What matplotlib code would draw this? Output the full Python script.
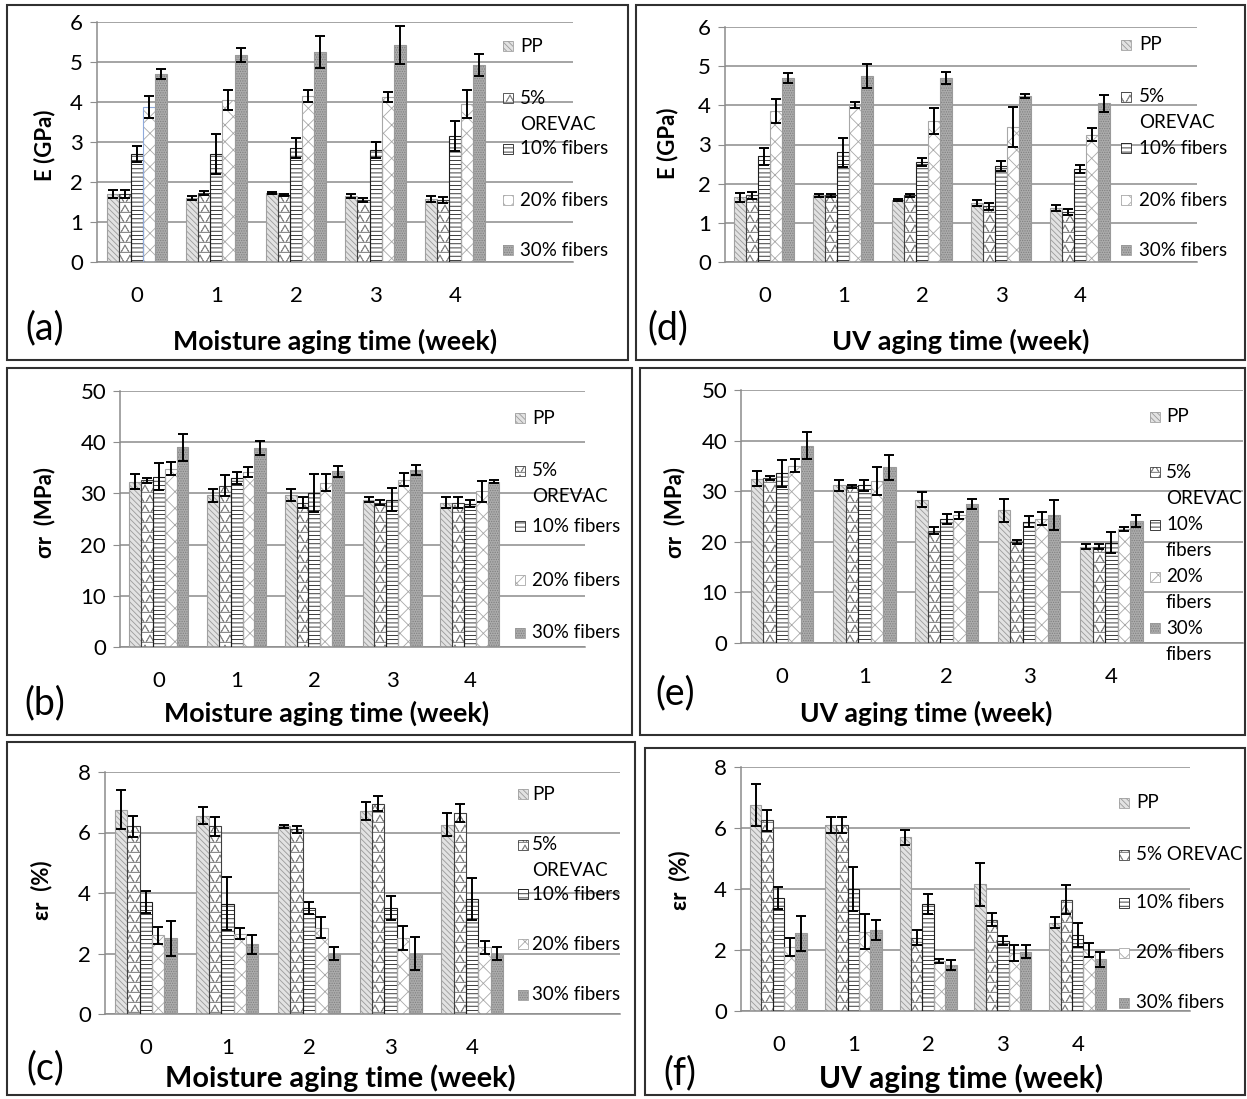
import numpy as np
import matplotlib
matplotlib.use('Agg')
import matplotlib.pyplot as plt
import matplotlib.hatch as mhatch
from matplotlib.path import Path
from matplotlib.patches import Rectangle

plt.rcParams['font.family'] = ['Lato', 'DejaVu Sans']
plt.rcParams['hatch.linewidth'] = 0.6

# data (rows = PP, 5% OREVAC, 10%, 20%, 30% fibers)
weeks = [0, 1, 2, 3, 4]

E_moist = [[1.70, 1.60, 1.72, 1.65, 1.58],
           [1.70, 1.72, 1.67, 1.55, 1.55],
           [2.70, 2.70, 2.85, 2.80, 3.15],
           [3.87, 4.05, 4.15, 4.12, 3.95],
           [4.70, 5.17, 5.25, 5.42, 4.92]]
E_moist_err = [[0.10, 0.05, 0.03, 0.06, 0.08],
               [0.10, 0.05, 0.03, 0.05, 0.07],
               [0.20, 0.50, 0.25, 0.20, 0.37],
               [0.28, 0.25, 0.15, 0.12, 0.35],
               [0.13, 0.18, 0.40, 0.47, 0.27]]

E_uv = [[1.65, 1.70, 1.58, 1.50, 1.38],
        [1.70, 1.70, 1.70, 1.42, 1.28],
        [2.70, 2.80, 2.55, 2.45, 2.38],
        [3.85, 4.00, 3.60, 3.45, 3.25],
        [4.70, 4.75, 4.70, 4.25, 4.05]]
E_uv_err = [[0.11, 0.04, 0.03, 0.08, 0.07],
            [0.10, 0.04, 0.03, 0.08, 0.08],
            [0.22, 0.37, 0.10, 0.13, 0.10],
            [0.30, 0.08, 0.32, 0.52, 0.16],
            [0.12, 0.30, 0.15, 0.05, 0.22]]

S_moist = [[32.3, 29.6, 29.7, 28.8, 28.2],
           [32.6, 31.5, 28.2, 28.2, 28.2],
           [33.3, 33.0, 30.0, 28.8, 28.0],
           [34.8, 34.2, 32.1, 32.7, 30.4],
           [39.0, 38.9, 34.3, 34.5, 32.3]]
S_moist_err = [[1.5, 1.2, 1.2, 0.5, 1.0],
               [0.5, 2.1, 1.0, 0.5, 1.0],
               [2.6, 1.1, 3.7, 2.3, 0.7],
               [1.3, 1.0, 1.6, 1.2, 2.0],
               [2.6, 1.4, 1.0, 1.0, 0.3]]

S_uv = [[32.5, 31.2, 28.3, 26.2, 19.0],
        [32.6, 31.0, 22.2, 20.0, 19.0],
        [33.5, 31.2, 24.5, 24.0, 19.8],
        [35.0, 32.0, 25.2, 24.6, 22.5],
        [39.0, 34.7, 27.4, 25.3, 24.1]]
S_uv_err = [[1.5, 1.1, 1.5, 2.2, 0.5],
            [0.4, 0.3, 0.7, 0.4, 0.5],
            [2.6, 1.1, 0.9, 1.1, 2.1],
            [1.3, 2.7, 0.7, 1.3, 0.4],
            [2.7, 2.5, 1.0, 3.0, 1.1]]

eps_moist = [[6.75, 6.55, 6.20, 6.70, 6.25],
             [6.20, 6.20, 6.10, 6.95, 6.65],
             [3.70, 3.65, 3.50, 3.50, 3.80],
             [2.60, 2.65, 2.85, 2.50, 2.20],
             [2.50, 2.30, 2.00, 2.00, 2.00]]
eps_moist_err = [[0.65, 0.28, 0.05, 0.30, 0.38],
                 [0.35, 0.30, 0.13, 0.25, 0.30],
                 [0.37, 0.88, 0.20, 0.40, 0.70],
                 [0.27, 0.18, 0.35, 0.40, 0.22],
                 [0.57, 0.30, 0.23, 0.55, 0.23]]

eps_uv = [[6.75, 6.10, 5.70, 4.15, 2.90],
          [6.25, 6.10, 2.40, 3.00, 3.65],
          [3.70, 4.00, 3.50, 2.30, 2.50],
          [2.10, 2.60, 1.65, 1.90, 2.00],
          [2.55, 2.65, 1.50, 1.95, 1.70]]
eps_uv_err = [[0.68, 0.27, 0.25, 0.70, 0.18],
              [0.35, 0.27, 0.25, 0.20, 0.48],
              [0.35, 0.72, 0.33, 0.15, 0.40],
              [0.30, 0.58, 0.07, 0.25, 0.22],
              [0.57, 0.33, 0.17, 0.20, 0.25]]


# triangle hatch for the OREVAC bars (takes the place of the 'O' circles)
class TriangleHatch(mhatch.Shapes):
    size = 0.5
    filled = False

    def __init__(self, hatch, density):
        # needs an even row count for the Shapes bookkeeping
        self.num_rows = 2 * round(hatch.count('O') * density * 0.8)
        tri = Path.unit_regular_polygon(3)
        self.shape_vertices = tri.vertices
        self.shape_codes = tri.codes
        super().__init__(hatch, density)


mhatch._hatch_types = [TriangleHatch if h is mhatch.LargeCircles else h
                       for h in mhatch._hatch_types]

styles = [dict(fc='#e2e2e2', hc='#9a9a9a', hatch='\\\\\\\\\\\\', ec='#a0a0a0'),
          dict(fc='white', hc='#8a8a8a', hatch='O', ec='#404040'),
          dict(fc='white', hc='#1e1e1e', hatch='----', ec='#1e1e1e'),
          dict(fc='white', hc='#a8a8a8', hatch='xx', ec='#a8a8a8'),
          dict(fc='#ababab', hc='#808080', hatch='.......', ec='#9a9a9a')]

W, H = 1247, 1099
fig = plt.figure(figsize=(W / 100, H / 100), dpi=100)
grid_c = '#8c8c8c'


def fx(px):
    return px / W


def fy(py):
    return 1 - py / H


def draw_panel(box, axpos, xmax, vals, errs, ymax, ystep, ylabel, ylab_xy,
               xlabel, xlab_xy, xlab_size, tag, tag_xy, legend):
    x0, y0, x1, y1 = box
    fig.add_artist(Rectangle((fx(x0), fy(y1)), (x1 - x0) / W, (y1 - y0) / H,
                             transform=fig.transFigure, fill=False,
                             ec='#303030', lw=1.5))
    left, right, top, bottom = axpos
    ax = fig.add_axes([fx(left), fy(bottom), (right - left) / W, (bottom - top) / H])
    x = np.arange(len(weeks))
    w = 0.152
    n = len(vals)
    bars = []
    for i in range(n):
        st = styles[i]
        xs = x + (i - (n - 1) / 2) * w
        ax.bar(xs, vals[i], w, color=st['fc'], edgecolor=st['hc'],
               hatch=st['hatch'], linewidth=0, zorder=2)
        b = ax.bar(xs, vals[i], w, fill=False, edgecolor=st['ec'],
                   linewidth=0.8, zorder=3)
        bars.append(b)
        ax.errorbar(xs, vals[i], yerr=errs[i], fmt='none', ecolor='black',
                    elinewidth=1.4, capsize=3.5, capthick=1.4, zorder=4)
    ax.set_xlim(-0.5, xmax)
    ax.set_ylim(0, ymax)
    ax.set_yticks(np.arange(0, ymax + 0.01, ystep))
    ax.set_xticks(x)
    ax.set_xticklabels([str(wk) for wk in weeks])
    ax.grid(axis='y', color=grid_c, lw=1.1, zorder=0)
    ax.set_axisbelow(True)
    for s in ['top', 'right']:
        ax.spines[s].set_visible(False)
    for s in ['left', 'bottom']:
        ax.spines[s].set_color(grid_c)
        ax.spines[s].set_linewidth(1.1)
    ax.tick_params(axis='y', length=5, color=grid_c, labelsize=16, pad=5)
    ax.tick_params(axis='x', length=0, labelsize=16, pad=17)

    fig.text(fx(ylab_xy[0]), fy(ylab_xy[1]), ylabel, rotation=90, ha='center',
             va='center', fontsize=16, fontweight='bold')
    fig.text(fx(xlab_xy[0]), fy(xlab_xy[1]), xlabel, ha='center', va='center',
             fontsize=xlab_size, fontweight='bold')
    fig.text(fx(tag_xy[0]), fy(tag_xy[1]), tag, ha='center', va='center',
             fontsize=27)

    # legend laid out like the spreadsheet one
    patch_x, text_x, ys, labels = legend
    for i, (yy, lab) in enumerate(zip(ys, labels)):
        st = styles[i]
        for kw in [dict(fc=st['fc'], ec=st['hc'], hatch=st['hatch'], lw=0),
                   dict(fill=False, ec=st['ec'], lw=0.6)]:
            fig.add_artist(Rectangle((fx(patch_x), fy(yy + 5)), 10 / W, 10 / H,
                                     transform=fig.transFigure, **kw))
        for k, line in enumerate(lab.split('\n')):
            fig.text(fx(text_x), fy(yy + k * 26), line, ha='left',
                     va='center', fontsize=13.5)
    return ax, bars


lab_a = ['PP', '5%\nOREVAC', '10% fibers', '20% fibers', '30% fibers']
lab_e = ['PP', '5%\nOREVAC', '10%\nfibers', '20%\nfibers', '30%\nfibers']
lab_f = ['PP', '5% OREVAC', '10% fibers', '20% fibers', '30% fibers']

ax_a, bars_a = draw_panel((7, 5, 628, 360), (97, 573, 22, 262), 5.48,
                          E_moist, E_moist_err, 6, 1, 'E (GPa)', (45, 145),
                          'Moisture aging time (week)', (335, 341), 19.3,
                          '(a)', (45, 328),
                          (503, 520, [46, 98, 149, 200, 250], lab_a))
# the 20% bar at week 0 is outlined in blue in the original
bars_a[3][0].set_edgecolor('#8faadc')

draw_panel((636, 5, 1245, 360), (725, 1197, 27, 262), 5.48,
           E_uv, E_uv_err, 6, 1, 'E (GPa)', (668, 143),
           'UV aging time (week)', (961, 341), 19.5, '(d)', (668, 328),
           (1121, 1139, [45, 97, 148, 200, 250], lab_a))

draw_panel((7, 368, 632, 735), (120, 585, 391, 647), 5.48,
           S_moist, S_moist_err, 50, 10, 'σr  (MPa)', (45, 512),
           'Moisture aging time (week)', (327, 713), 19.4, '(b)', (45, 703),
           (515, 532, [418, 471, 526, 580, 633], lab_a))

draw_panel((640, 368, 1245, 735), (741, 1243, 390, 643), 5.6,
           S_uv, S_uv_err, 50, 10, 'σr  (MPa)', (675, 512),
           'UV aging time (week)', (926, 713), 19.1, '(e)', (675, 693),
           (1150, 1166, [417, 472, 525, 577, 628], lab_e))

draw_panel((7, 742, 635, 1095), (105, 620, 772, 1014), 5.81,
           eps_moist, eps_moist_err, 8, 2, 'εr  (%)', (42, 890),
           'Moisture aging time (week)', (340, 1078), 20.8, '(c)', (45, 1068),
           (518, 532, [794, 845, 894, 944, 995], lab_a))

draw_panel((645, 748, 1245, 1095), (741, 1190, 767, 1011), 5.5,
           eps_uv, eps_uv_err, 8, 2, 'εr  (%)', (680, 880),
           'UV aging time (week)', (961, 1078), 21.5, '(f)', (680, 1073),
           (1119, 1136, [803, 855, 903, 953, 1003], lab_f))

fig.savefig('out.png', dpi=100)
